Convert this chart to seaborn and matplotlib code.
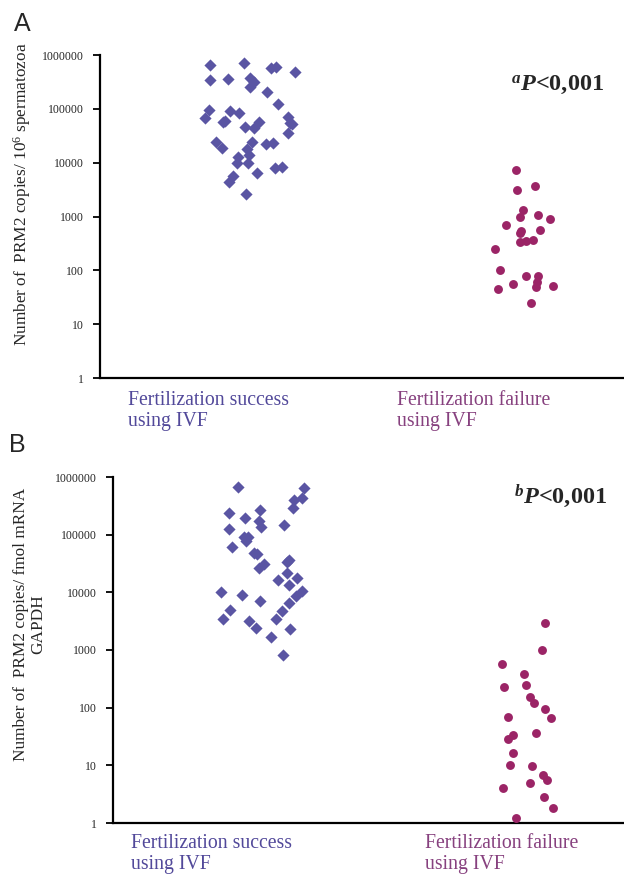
import matplotlib
matplotlib.use("Agg")
import matplotlib.pyplot as plt
import seaborn as sns
import pandas as pd
import numpy as np

# категории и подписи
groups = ["success", "failure"]
group_labels = ["Fertilization success\nusing IVF", "Fertilization failure\nusing IVF"]

# Панель A: копии PRM2 на 10^6 сперматозоидов
a_success = [650000, 600000, 710000, 574000, 483000, 315000, 374000, 343000, 358000,
             255000, 205000, 123000, 83700, 95100, 91200, 70500, 56900, 45900, 55000,
             67600, 56000, 52300, 59400, 45000, 35600, 24200, 24000, 23200, 22200,
             17900, 18700, 13900, 12700, 9860, 9900, 8300, 7960, 5650, 6430, 4370, 2620]
a_failure = [7310, 3680, 3100, 1320, 1070, 980, 898, 695, 561, 494, 540, 366, 351,
             336, 249, 101, 78.4, 78, 60.7, 51.1, 49, 45, 55.7, 24.7]

# Панель B: копии PRM2 на fmol мРНК GAPDH
b_success = [671000, 640000, 432000, 399000, 268000, 290000, 238000, 194000, 173000,
             147000, 136000, 125000, 91100, 77700, 90000, 61100, 48100, 47000, 33600,
             36400, 31000, 26400, 21600, 17700, 16400, 13400, 10500, 10100, 8650, 9000,
             7080, 6540, 4750, 4940, 3450, 3400, 3190, 2310, 2410, 1680, 819]
b_failure = [2940, 1000, 572, 384, 247, 228, 153, 121, 94.8, 66.2, 68.9, 33.6, 36.4,
             28.6, 16.4, 9.7, 10.1, 6.8, 5.6, 4.0, 4.9, 2.8, 1.8, 1.2]

ytick_vals = [1, 10, 100, 1000, 10000, 100000, 1000000]

sns.set_theme(style="ticks")
plt.rcParams['font.family'] = ['Liberation Serif', 'DejaVu Serif']
plt.rcParams['mathtext.fontset'] = 'custom'
plt.rcParams['mathtext.rm'] = 'Liberation Serif'
plt.rcParams['mathtext.it'] = 'Liberation Serif:italic'
plt.rcParams['mathtext.bf'] = 'Liberation Serif:bold'
plt.rcParams['mathtext.bfit'] = 'Liberation Serif:italic:bold'

col_succ = "#5a55a3"
col_fail = "#9b2466"
lab_succ = "#52499a"
lab_fail = "#87417f"

np.random.seed(7)  # разброс точек по x (только внешний вид)


def draw_panel(ax, succ, fail, ylabel, pletter, xlim, jit, lab_x, lab_y, p_xy):
    df = pd.DataFrame({
        "group": ["success"] * len(succ) + ["failure"] * len(fail),
        "value": list(succ) + list(fail),
    })
    ax.set_yscale("log")
    sns.stripplot(data=df[df["group"] == "success"], x="group", y="value", order=groups,
                  marker="D", size=6.2, color=col_succ, linewidth=0, jitter=jit[0],
                  ax=ax, clip_on=False)
    sns.stripplot(data=df[df["group"] == "failure"], x="group", y="value", order=groups,
                  marker="o", size=6.4, color=col_fail, linewidth=0, jitter=jit[1],
                  ax=ax, clip_on=False)
    ax.set_ylim(1, 1000000)
    ax.set_xlim(*xlim)
    ax.set_yticks(ytick_vals)
    ax.set_yticklabels([str(v) for v in ytick_vals])
    ax.yaxis.set_minor_locator(matplotlib.ticker.NullLocator())
    ax.tick_params(axis="y", length=5, width=1.3, direction="out", pad=7,
                   labelsize=8.5, color="black")
    ax.set_xticks([])
    ax.set_xlabel("")
    for s in ["top", "right"]:
        ax.spines[s].set_visible(False)
    for s in ["left", "bottom"]:
        ax.spines[s].set_linewidth(1.6)
        ax.spines[s].set_color("black")
    ax.set_ylabel(ylabel, fontsize=12.4, linespacing=1.1)
    # подписи групп
    ax.text(lab_x[0], lab_y, group_labels[0], transform=ax.transAxes, ha="left", va="top",
            fontsize=14.2, color=lab_succ, linespacing=1.12)
    ax.text(lab_x[1], lab_y, group_labels[1], transform=ax.transAxes, ha="left", va="top",
            fontsize=14.2, color=lab_fail, linespacing=1.12)
    ax.text(p_xy[0], p_xy[1], r"$^{\mathbfit{%s}}\mathbfit{P}$<0,001" % pletter,
            transform=ax.transAxes, ha="left", va="top", fontsize=17.5, fontweight="bold")


fig = plt.figure(figsize=(6.24, 8.77), dpi=100)

axA = fig.add_axes([100 / 624, 1 - 378 / 877, 524 / 624, 323 / 877])
draw_panel(axA, a_success, a_failure, r"Number of  PRM2 copies/ 10$^6$ spermatozoa", "a",
           (-0.545, 1.36), (0.17, 0.11), (0.053, 0.567), -0.04, (0.785, 0.94))
axA.yaxis.set_label_coords(-0.128, 0.57)

axB = fig.add_axes([113 / 624, 1 - 823 / 877, 511 / 624, 346 / 877])
draw_panel(axB, b_success, b_failure, "Number of  PRM2 copies/ fmol mRNA\nGAPDH", "b",
           (-0.561, 1.362), (0.17, 0.1), (0.035, 0.611), -0.032, (0.785, 0.985))
axB.yaxis.set_label_coords(-0.131, 0.575)

fig.text(14 / 624, 1 - 12 / 877, "A", fontsize=18, family="Liberation Sans", va="top", ha="left")
fig.text(9 / 624, 1 - 433 / 877, "B", fontsize=18, family="Liberation Sans", va="top", ha="left")

fig.savefig("out.png", dpi=100)
